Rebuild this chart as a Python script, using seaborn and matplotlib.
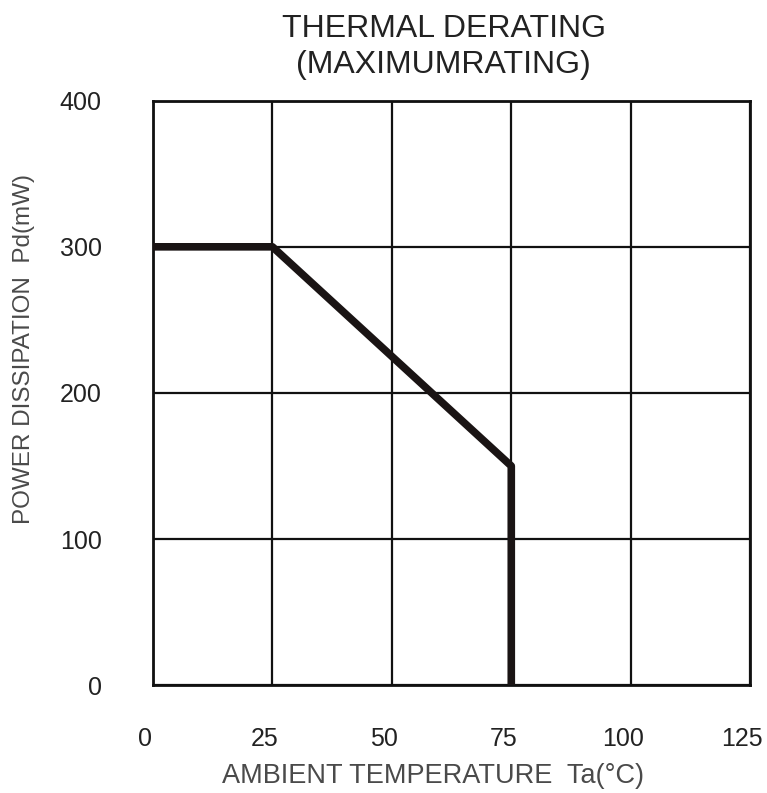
"""
Thermal derating curve (maximum rating) redrawn with seaborn.
"""

import matplotlib
matplotlib.use("Agg")
import matplotlib.pyplot as plt
import matplotlib.transforms as mtransforms
import seaborn as sns

# Curve data
temperature_c = [0, 25, 75, 75]
power_mw = [300, 300, 150, 0]

x_ticks = [0, 25, 50, 75, 100, 125]
y_ticks = [0, 100, 200, 300, 400]

FONT = ["Liberation Sans", "DejaVu Sans"]
INK = "#1a1414"
GREY = "#4a4a4a"

sns.set_theme(style="white")
plt.rcParams["font.family"] = FONT

fig = plt.figure(figsize=(7.67, 7.93), dpi=100)
ax = fig.add_axes([0.1995, 0.136, 0.7785, 0.737])

sns.lineplot(
    x=temperature_c, y=power_mw, sort=False, estimator=None,
    color=INK, linewidth=5.5, ax=ax, zorder=3,
)

ax.set_xlim(0, 125)
ax.set_ylim(0, 400)
ax.set_xticks(x_ticks)
ax.set_yticks(y_ticks)
ax.grid(True, color="#111111", linewidth=1.6)
for spine in ax.spines.values():
    spine.set_color("#111111")
    spine.set_linewidth(2)

ax.tick_params(axis="x", length=0, pad=30, labelsize=18, labelcolor="#222222")
ax.tick_params(axis="y", length=0, pad=37, labelsize=18, labelcolor="#222222")

# x tick labels sit slightly left of the grid lines in the original
shift = mtransforms.ScaledTranslation(-8 / 100, 0, fig.dpi_scale_trans)
for lbl in ax.get_xticklabels():
    lbl.set_transform(lbl.get_transform() + shift)

ax.set_xlabel("AMBIENT TEMPERATURE  Ta(°C)", fontsize=19.5, color=GREY, labelpad=9)
ax.xaxis.label.set_x(0.469)
ax.set_ylabel("POWER DISSIPATION  Pd(mW)", fontsize=17.5, color=GREY)
ax.yaxis.set_label_coords(-0.197, 0.575)
ax.set_title("THERMAL DERATING\n(MAXIMUMRATING)", fontsize=23, color="#222222",
             linespacing=1.25, pad=20, x=0.487)

fig.savefig("out.png", dpi=100)
plt.close(fig)
